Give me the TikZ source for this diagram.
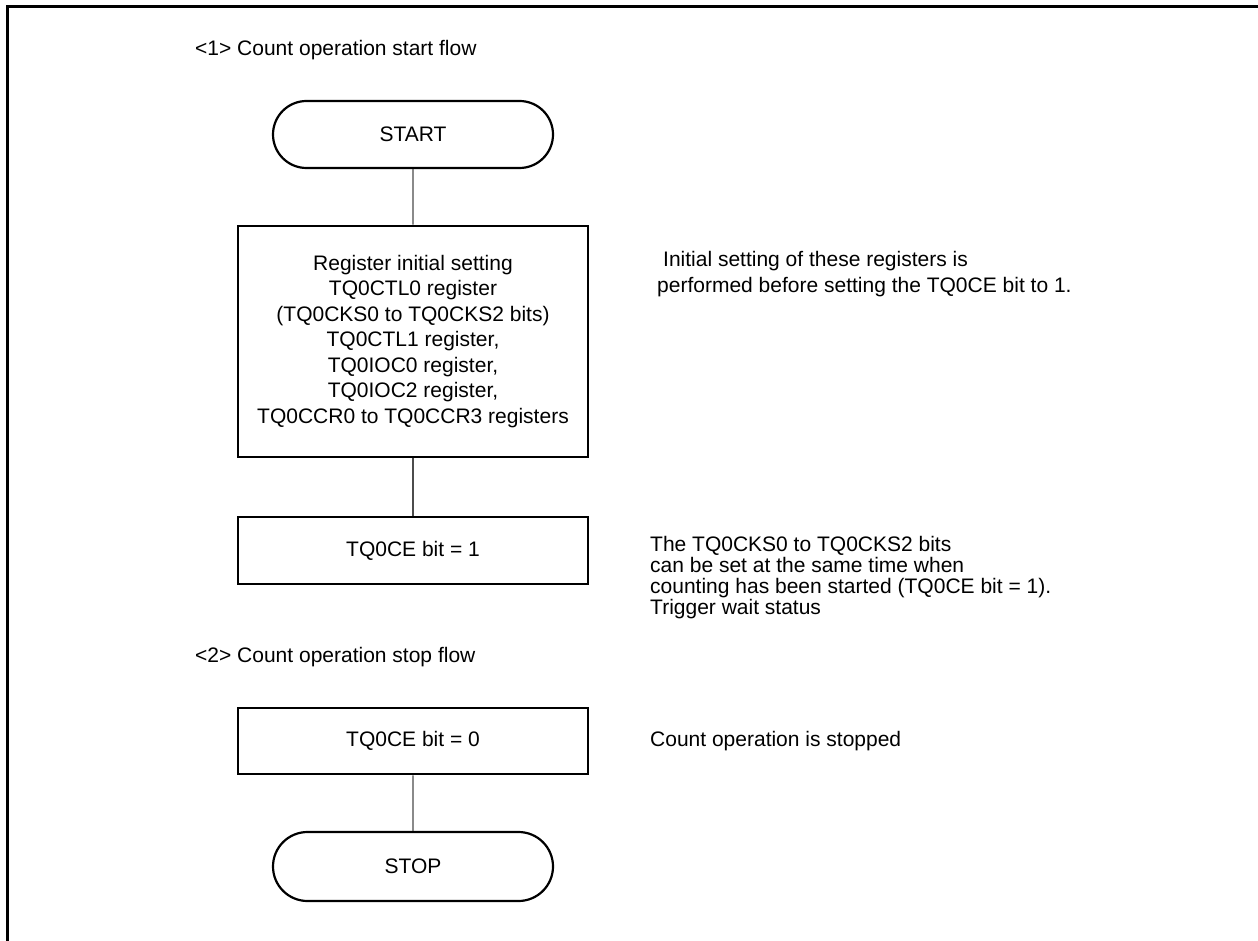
\documentclass[tikz,border=0pt]{standalone}
\usepackage{fontspec}
\setmainfont{Liberation Sans}
\usetikzlibrary{shapes.misc}
\begin{document}
\begin{tikzpicture}[x=1pt,y=-1pt,
  every node/.style={font=\fontsize{21}{25.5}\selectfont, text=black},
  procbox/.style={draw=black, line width=2.5pt, minimum width=350pt, align=center, inner sep=0pt},
  term/.style={draw=black, line width=2.2pt, rounded rectangle, minimum width=280pt, minimum height=67pt, inner sep=0pt},
  conn/.style={draw=black!70, line width=1.1pt},
  note/.style={anchor=west, align=left, inner sep=0pt},
  frameline/.style={line width=3pt, line cap=rect}]
\useasboundingbox (0,0) rectangle (1258,941);
\fill[white] (0,0) rectangle (1258,941);
\draw[frameline] (7.5,945) -- (7.5,6.5) -- (1262,6.5);

\node[note] (t1) at (195,50) {<1> Count operation start flow};
\node[term] (start) at (413,134.5) {START};
\node[procbox, minimum height=231pt] (reg) at (413,341.5) {Register initial setting\\TQ0CTL0 register\\(TQ0CKS0 to TQ0CKS2 bits)\\TQ0CTL1 register,\\TQ0IOC0 register,\\TQ0IOC2 register,\\TQ0CCR0 to TQ0CCR3 registers};
\node[procbox, minimum height=67pt] (ce1) at (413,550.5) {TQ0CE bit = 1};
\node[note] (t2) at (195,657) {<2> Count operation stop flow};
\node[procbox, minimum height=66pt] (ce0) at (413,741) {TQ0CE bit = 0};
\node[term, minimum height=69pt] (stop) at (413,866.5) {STOP};

\node[note] (n1) at (657,274) {\hspace*{6pt}Initial setting of these registers is\\performed before setting the TQ0CE bit to 1.};
\node[note, font=\fontsize{21}{21}\selectfont] (n2) at (650,578) {The TQ0CKS0 to TQ0CKS2 bits\\can be set at the same time when\\counting has been started (TQ0CE bit = 1).\\Trigger wait status};
\node[note] (n3) at (650,741) {Count operation is stopped};

\draw[conn] (start) -- (reg);
\draw[conn] (reg) -- (ce1);
\draw[conn] (ce0) -- (stop);
\end{tikzpicture}
\end{document}
